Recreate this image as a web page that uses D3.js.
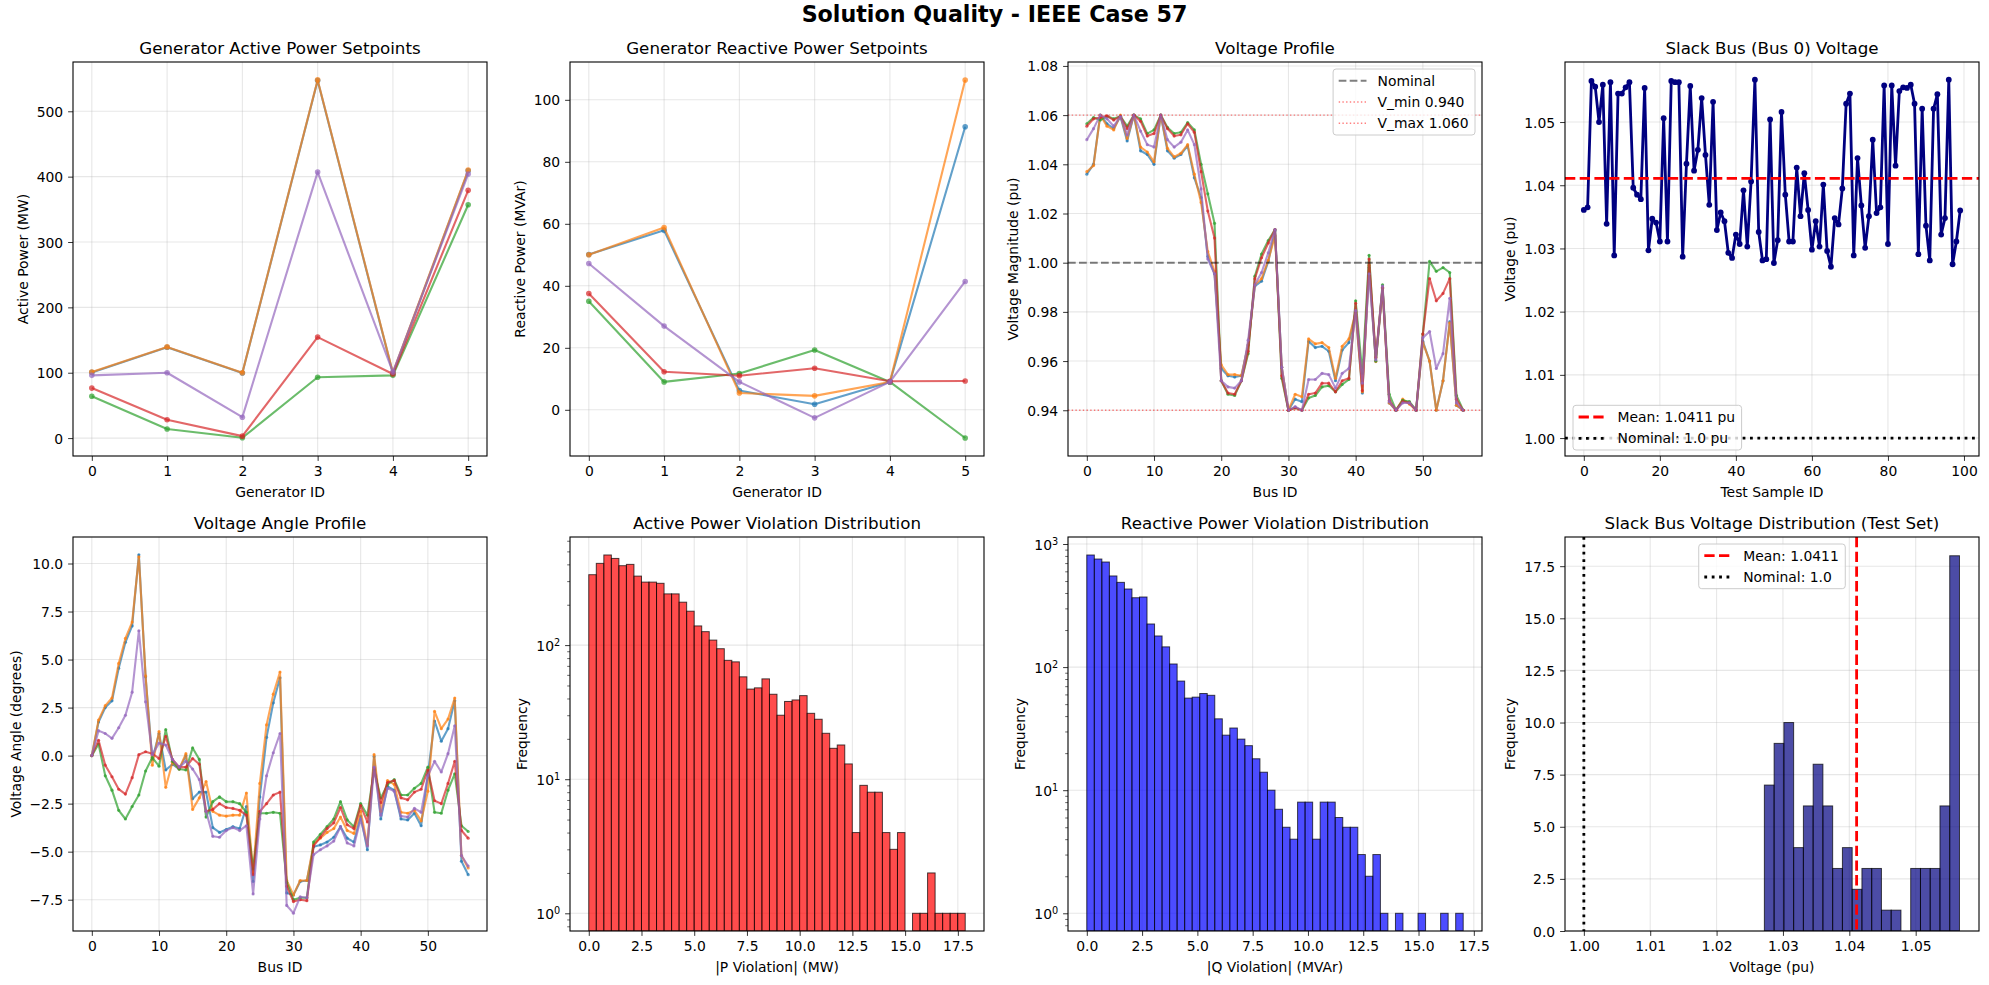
<!DOCTYPE html>
<html>
<head>
<meta charset="utf-8">
<script src="https://cdnjs.cloudflare.com/ajax/libs/d3/7.8.5/d3.min.js"></script>
<style>
    body { margin: 0; background: #ffffff; }
    svg { display: block; font-family: "DejaVu Sans", sans-serif; }
</style>
</head>
<body>
<svg id="fig" width="1989" height="985"></svg>
<script>
// ---- data ----
const sampleColors = ["#1f77b4", "#ff7f0e", "#2ca02c", "#d62728", "#9467bd"];
const genIds = [0, 1, 2, 3, 4, 5];

const genActivePower = [
    [100.5, 139, 99.5, 547, 99, 409],
    [101, 139.5, 100, 548, 100, 410],
    [64, 14, 0.5, 93, 96, 357],
    [76.5, 28, 3, 154.5, 98, 379],
    [96, 100, 32, 407, 101, 404]
];

const genReactivePower = [
    [50.1, 57.9, 6.2, 1.8, 9, 91.3],
    [50, 58.8, 5.4, 4.5, 9, 106.4],
    [35, 9, 11.7, 19.3, 9, -9.1],
    [37.5, 12.3, 11, 13.4, 9.2, 9.3],
    [47.2, 27, 9, -2.6, 9, 41.4]
];

const busIds = d3.range(57);

const busVoltage = [
    [1.036, 1.040, 1.060, 1.0565, 1.0545, 1.0595, 1.0495, 1.060, 1.0455, 1.044,
     1.040, 1.060, 1.0455, 1.0425, 1.044, 1.0475, 1.0345, 1.0265, 1.0025, 0.9955,
     0.957, 0.954, 0.9535, 0.954, 0.9665, 0.9905, 0.9925, 1.0005, 1.013, 0.9575,
     0.940, 0.9445, 0.9435, 0.968, 0.9655, 0.966, 0.964, 0.952, 0.9645, 0.9675,
     0.980, 0.947, 0.998, 0.960, 0.9895, 0.943, 0.940, 0.944, 0.943, 0.940,
     0.968, 0.960, 0.940, 0.952, 0.976, 0.942, 0.940],
    [1.037, 1.0395, 1.060, 1.0555, 1.054, 1.060, 1.0505, 1.060, 1.047, 1.045,
     1.041, 1.060, 1.0465, 1.043, 1.0445, 1.048, 1.036, 1.0245, 1.0045, 0.9965,
     0.9585, 0.9545, 0.9545, 0.954, 0.9665, 0.991, 0.9935, 1.001, 1.011, 0.9575,
     0.940, 0.9465, 0.9455, 0.969, 0.967, 0.9675, 0.9655, 0.953, 0.966, 0.969,
     0.980, 0.9475, 0.999, 0.9598, 0.9895, 0.943, 0.940, 0.9445, 0.9425, 0.940,
     0.9675, 0.960, 0.940, 0.952, 0.9755, 0.942, 0.940],
    [1.0565, 1.059, 1.058, 1.0595, 1.0585, 1.0595, 1.0555, 1.060, 1.0585, 1.0525,
     1.054, 1.060, 1.055, 1.0525, 1.053, 1.057, 1.054, 1.040, 1.028, 1.016,
     0.952, 0.9465, 0.946, 0.952, 0.963, 0.9945, 1.0035, 1.009, 1.0135, 0.953,
     0.940, 0.941, 0.940, 0.945, 0.946, 0.9495, 0.950, 0.9475, 0.9505, 0.9525,
     0.9845, 0.955, 1.003, 0.960, 0.991, 0.9465, 0.940, 0.944, 0.9435, 0.940,
     0.971, 1.0005, 0.9965, 0.998, 0.996, 0.946, 0.940],
    [1.0555, 1.0585, 1.059, 1.0597, 1.058, 1.0595, 1.0545, 1.060, 1.0575, 1.0515,
     1.0525, 1.060, 1.0545, 1.0515, 1.052, 1.0565, 1.053, 1.037, 1.021, 1.010,
     0.952, 0.947, 0.9465, 0.952, 0.964, 0.9935, 1.002, 1.008, 1.0135, 0.954,
     0.940, 0.941, 0.940, 0.9465, 0.947, 0.951, 0.951, 0.9475, 0.952, 0.953,
     0.9835, 0.948, 1.0015, 0.9615, 0.990, 0.944, 0.940, 0.9435, 0.943, 0.940,
     0.971, 0.9935, 0.9845, 0.9875, 0.9935, 0.9445, 0.940],
    [1.050, 1.0545, 1.060, 1.0585, 1.0555, 1.0595, 1.052, 1.060, 1.0535, 1.048,
     1.047, 1.060, 1.050, 1.047, 1.049, 1.054, 1.048, 1.030, 1.0015, 0.9955,
     0.952, 0.9495, 0.949, 0.952, 0.9685, 0.991, 0.996, 1.004, 1.0135, 0.9575,
     0.940, 0.9415, 0.940, 0.9525, 0.9525, 0.955, 0.9545, 0.949, 0.955, 0.957,
     0.9805, 0.951, 0.9955, 0.9605, 0.9905, 0.9435, 0.940, 0.943, 0.943, 0.940,
     0.9695, 0.972, 0.957, 0.963, 0.9855, 0.943, 0.940]
];

const busAngle = [
    [0, 1.75, 2.5, 2.85, 4.55, 5.9, 6.75, 10.45, 4.1, -0.2,
     1.15, -0.75, -0.45, -0.7, 0.0, -2.25, -1.9, -1.9, -3.75, -4.0,
     -3.85, -3.7, -3.8, -2.65, -6.55, -2.15, 0.95, 2.75, 4.05, -7.15,
     -7.25, -6.55, -6.5, -4.75, -4.65, -4.5, -4.25, -3.7, -4.3, -4.5,
     -3.15, -4.9, -0.05, -3.3, -1.6, -1.8, -3.3, -3.35, -3.0, -3.65,
     -1.0, 1.8, 0.75, 1.4, 2.85, -5.5, -6.2],
    [0, 1.85, 2.6, 3.0, 4.8, 6.1, 6.95, 10.35, 4.15, -0.5,
     1.25, -1.65, -0.35, -0.7, 0.1, -2.8, -2.2, -1.35, -2.9, -3.1,
     -3.15, -3.1, -3.1, -1.95, -6.1, -1.45, 1.6, 3.2, 4.35, -6.5,
     -7.25, -6.5, -6.5, -4.6, -4.3, -4.0, -3.8, -3.2, -3.9, -4.05,
     -2.9, -4.65, 0.05, -2.9, -1.3, -1.5, -2.95, -3.0, -2.85, -3.4,
     -1.85, 2.3, 1.4, 1.9, 3.0, -5.2, -5.85],
    [0, 0.6, -1.05, -1.8, -2.85, -3.3, -2.65, -2.05, -0.8, -0.1,
     -0.55, 1.35, -0.3, -0.7, -0.75, 0.4, -0.2, -3.2, -2.4, -2.15,
     -2.4, -2.4, -2.5, -2.95, -5.9, -3.0, -3.0, -2.95, -3.0, -6.6,
     -7.5, -7.4, -7.4, -4.5, -4.1, -3.7, -3.3, -2.4, -3.35, -3.7,
     -2.5, -3.1, -0.75, -2.2, -1.5, -1.25, -2.05, -2.05, -1.7, -1.45,
     -0.6, -2.95, -3.0, -1.8, -0.95, -3.65, -3.95],
    [0, 0.8, -0.5, -1.1, -1.75, -2.0, -1.15, 0.05, 0.2, 0.1,
     -0.15, 1.0, -0.2, -0.6, -0.6, -0.15, -0.45, -2.9, -2.8, -2.5,
     -2.7, -2.75, -2.85, -3.1, -6.2, -2.9, -2.5, -2.05, -1.9, -6.8,
     -7.6, -7.5, -7.55, -4.7, -4.25, -3.8, -3.5, -2.7, -3.6, -3.8,
     -2.6, -3.45, -0.65, -2.45, -1.4, -1.3, -2.2, -2.3, -1.9, -1.75,
     -0.75, -2.35, -2.5, -1.45, -0.3, -3.9, -4.3],
    [0, 1.3, 1.15, 0.9, 1.45, 2.1, 3.3, 6.5, 2.8, 0.05,
     0.65, 0.55, -0.2, -0.6, -0.3, -0.7, -1.25, -2.9, -4.2, -4.25,
     -3.9, -3.75, -3.9, -3.65, -7.2, -3.3, -1.05, 0.15, 1.15, -7.8,
     -8.2, -7.35, -7.4, -5.15, -4.9, -4.7, -4.45, -3.7, -4.55, -4.7,
     -3.3, -4.7, -0.6, -3.1, -1.7, -1.85, -3.15, -3.2, -2.75, -2.95,
     -1.05, -0.3, -0.85, 0.1, 1.55, -5.2, -5.75]
];

const sampleIds = d3.range(100);
const slackVoltage = [
    1.0361, 1.0365, 1.0565, 1.0556, 1.0500, 1.0559, 1.0339, 1.0563, 1.0289, 1.0545,
    1.0545, 1.0555, 1.0563, 1.0396, 1.0385, 1.0378, 1.0554, 1.0297, 1.0347, 1.0341,
    1.0311, 1.0506, 1.0311, 1.0565, 1.0563, 1.0563, 1.0287, 1.0434, 1.0557, 1.0423,
    1.0456, 1.0538, 1.0448, 1.0369, 1.0532, 1.0329, 1.0357, 1.0343, 1.0293, 1.0285,
    1.0322, 1.0307, 1.0392, 1.0303, 1.0406, 1.0567, 1.0326, 1.0281, 1.0283, 1.0504,
    1.0277, 1.0313, 1.0516, 1.0385, 1.0311, 1.0311, 1.0428, 1.0351, 1.0419, 1.0361,
    1.0298, 1.0343, 1.0303, 1.0401, 1.0296, 1.0271, 1.0348, 1.0338, 1.0395, 1.0529,
    1.0545, 1.0289, 1.0443, 1.0368, 1.0301, 1.0351, 1.0472, 1.0356, 1.0365, 1.0558,
    1.0307, 1.0558, 1.0431, 1.0549, 1.0555, 1.0554, 1.0559, 1.0529, 1.0291, 1.0521,
    1.0336, 1.0281, 1.0521, 1.0544, 1.0322, 1.0348, 1.0567, 1.0275, 1.0311, 1.0360
];
const slackMean = 1.0411;
const nominalV = 1.0;
const vMin = 0.94;
const vMax = 1.06;

const pViolRange = [0, 17.85];
const pViolCounts = [
    335, 407, 470, 443, 391, 400, 327, 295, 295, 289,
    241, 241, 209, 179, 139, 126, 109, 94, 77, 75,
    58, 47, 48, 56, 43, 30, 38, 39, 42, 31,
    28, 22, 17, 18, 13, 4, 9, 8, 8, 4,
    3, 4, 0, 1, 1, 2, 1, 1, 1, 1
];

const qViolRange = [0, 17.02];
const qViolCounts = [
    814, 755, 714, 550, 488, 431, 366, 371, 224, 179,
    146, 106, 77, 56, 57, 61, 59, 38, 28, 32,
    26, 23, 18, 14, 10, 7, 5, 4, 8, 8,
    4, 8, 8, 6, 5, 5, 3, 2, 3, 1,
    0, 1, 0, 0, 1, 0, 0, 1, 0, 1
];

const slackHistRange = [1.0272, 1.0566];
const slackHistCounts = [7, 9, 10, 4, 6, 8, 6, 3, 4, 2, 3, 3, 1, 1, 0, 3, 3, 3, 6, 18];

// ---- drawing ----
const svg = d3.select("#fig");
const FS = 13.9;
let clipCount = 0;

svg.append("text")
    .attr("x", 994.5).attr("y", 22)
    .attr("text-anchor", "middle")
    .attr("font-size", 22.2).attr("font-weight", "bold")
    .text("Solution Quality - IEEE Case 57");

function addPanel(o) {
    const [x0, y0, x1, y1] = o.box;
    const g = svg.append("g");
    const x = d3.scaleLinear().domain(o.xDomain).range([x0, x1]);
    const y = (o.yLog ? d3.scaleLog() : d3.scaleLinear()).domain(o.yDomain).range([y1, y0]);

    // grid
    const grid = g.append("g").attr("stroke", "#b0b0b0").attr("stroke-opacity", 0.3).attr("stroke-width", 1.1);
    grid.selectAll(".gx").data(o.xTicks).join("line").attr("class", "gx")
        .attr("x1", d => x(d)).attr("x2", d => x(d)).attr("y1", y0).attr("y2", y1);
    grid.selectAll(".gy").data(o.yTicks).join("line").attr("class", "gy")
        .attr("y1", d => y(d)).attr("y2", d => y(d)).attr("x1", x0).attr("x2", x1);

    const cid = "clip" + (clipCount++);
    svg.append("defs").append("clipPath").attr("id", cid)
        .append("rect").attr("x", x0).attr("y", y0).attr("width", x1 - x0).attr("height", y1 - y0);
    const plot = g.append("g").attr("clip-path", `url(#${cid})`);

    // x axis
    g.append("g")
        .attr("transform", `translate(0,${y1})`)
        .call(d3.axisBottom(x).tickValues(o.xTicks).tickFormat(o.xFmt).tickSize(4.9).tickSizeOuter(0))
        .attr("font-size", FS).attr("font-family", "DejaVu Sans, sans-serif")
        .call(a => a.select(".domain").remove())
        .call(a => a.selectAll(".tick line").attr("stroke-width", 0.8))
        .call(a => a.selectAll(".tick text").attr("dy", null).attr("y", 20.3).attr("fill", "#000"));

    // y axis
    const ya = g.append("g")
        .attr("transform", `translate(${x0},0)`)
        .call(d3.axisLeft(y).tickValues(o.yTicks).tickFormat(o.yLog ? () => "10" : o.yFmt)
            .tickSize(4.9).tickPadding(4.9).tickSizeOuter(0))
        .attr("font-size", FS).attr("font-family", "DejaVu Sans, sans-serif")
        .call(a => a.select(".domain").remove())
        .call(a => a.selectAll(".tick line").attr("stroke-width", 0.8))
        .call(a => a.selectAll(".tick text").attr("dy", "0.36em").attr("fill", "#000"));
    if (o.yLog) {
        ya.selectAll(".tick text").each(function (d) {
            d3.select(this).append("tspan").attr("dy", "-0.5em").attr("font-size", "0.7em")
                .text(Math.round(Math.log10(d)));
        });
        const minor = [];
        for (let e = -1; e <= 3; e++) {
            for (let m = 2; m <= 9; m++) {
                const v = m * Math.pow(10, e);
                if (v >= o.yDomain[0] && v <= o.yDomain[1]) minor.push(v);
            }
        }
        g.append("g")
            .attr("transform", `translate(${x0},0)`)
            .call(d3.axisLeft(y).tickValues(minor).tickFormat("").tickSize(2.8).tickSizeOuter(0))
            .call(a => a.select(".domain").remove())
            .call(a => a.selectAll(".tick line").attr("stroke-width", 0.6));
    }

    // spines
    g.append("rect").attr("x", x0).attr("y", y0).attr("width", x1 - x0).attr("height", y1 - y0)
        .attr("fill", "none").attr("stroke", "#000").attr("stroke-width", 1.1);

    // labels
    g.append("text").attr("x", (x0 + x1) / 2).attr("y", y0 - 8)
        .attr("text-anchor", "middle").attr("font-size", 16.7).text(o.title);
    g.append("text").attr("x", (x0 + x1) / 2).attr("y", y1 + 41)
        .attr("text-anchor", "middle").attr("font-size", FS).text(o.xLabel);
    const bb = ya.node().getBBox();
    const lx = x0 + bb.x - 5.6 - 3.3;
    g.append("text")
        .attr("transform", `translate(${lx},${(y0 + y1) / 2}) rotate(-90)`)
        .attr("text-anchor", "middle").attr("font-size", FS).text(o.yLabel);

    return { g, plot, x, y, box: o.box };
}

function drawSeries(p, xs, ys, color, lw, r) {
    p.plot.append("path").datum(ys)
        .attr("d", d3.line().x((d, i) => p.x(xs[i])).y(d => p.y(d)))
        .attr("fill", "none").attr("stroke", color).attr("stroke-width", lw)
        .attr("stroke-opacity", 0.7).attr("stroke-linejoin", "round");
    p.plot.append("g").selectAll("circle").data(ys).join("circle")
        .attr("cx", (d, i) => p.x(xs[i])).attr("cy", d => p.y(d)).attr("r", r)
        .attr("fill", color).attr("fill-opacity", 0.7);
}

function hLine(p, v, color, lw, dash, op) {
    p.plot.append("line").attr("x1", p.box[0]).attr("x2", p.box[2])
        .attr("y1", p.y(v)).attr("y2", p.y(v))
        .attr("stroke", color).attr("stroke-width", lw).attr("stroke-dasharray", dash).attr("stroke-opacity", op);
}

function vLine(p, v, color, lw, dash, op) {
    p.plot.append("line").attr("y1", p.box[1]).attr("y2", p.box[3])
        .attr("x1", p.x(v)).attr("x2", p.x(v))
        .attr("stroke", color).attr("stroke-width", lw).attr("stroke-dasharray", dash).attr("stroke-opacity", op);
}

function drawHist(p, range, counts, color) {
    const n = counts.length;
    const edges = d3.range(n + 1).map(i => range[0] + i * (range[1] - range[0]) / n);
    p.plot.append("g").selectAll("rect").data(counts.map((c, i) => ({ c, i })).filter(d => d.c > 0))
        .join("rect")
        .attr("x", d => p.x(edges[d.i])).attr("width", d => p.x(edges[d.i + 1]) - p.x(edges[d.i]))
        .attr("y", d => p.y(d.c)).attr("height", d => p.box[3] - p.y(d.c))
        .attr("fill", color).attr("fill-opacity", 0.7)
        .attr("stroke", "#000").attr("stroke-opacity", 0.7).attr("stroke-width", 1);
}

function legend(p, items, place) {
    const lg = p.g.append("g");
    const frame = lg.append("rect");
    let tw = 0;
    items.forEach((it, i) => {
        const cy = 11.7 + i * 21.3;
        lg.append("line").attr("x1", 5.6).attr("x2", 33.4).attr("y1", cy).attr("y2", cy)
            .attr("stroke", it.color).attr("stroke-width", it.lw)
            .attr("stroke-dasharray", it.dash).attr("stroke-opacity", it.op);
        const t = lg.append("text").attr("x", 44.5).attr("y", cy + 5).attr("font-size", FS).text(it.label);
        tw = Math.max(tw, t.node().getComputedTextLength());
    });
    const w = 44.5 + tw + 6.5, h = 23.4 + (items.length - 1) * 21.3;
    frame.attr("width", w).attr("height", h).attr("rx", 3)
        .attr("fill", "#fff").attr("fill-opacity", 0.8).attr("stroke", "#cccccc").attr("stroke-width", 1);
    const [x0, y0, x1, y1] = p.box;
    let tx, ty;
    if (place === "upper right") { tx = x1 - 7 - w; ty = y0 + 7; }
    else if (place === "lower left") { tx = x0 + 8; ty = y1 - 6 - h; }
    else { tx = (x0 + x1) / 2 - w / 2; ty = y0 + 7; }
    lg.attr("transform", `translate(${tx},${ty})`);
}

const fInt = d3.format("d");

// 1. active power setpoints
const p1 = addPanel({
    box: [73, 62, 487, 456], xDomain: [-0.25, 5.25], yDomain: [-27.4, 575.4],
    xTicks: genIds, yTicks: [0, 100, 200, 300, 400, 500], xFmt: fInt, yFmt: fInt,
    title: "Generator Active Power Setpoints", xLabel: "Generator ID", yLabel: "Active Power (MW)"
});
genActivePower.forEach((s, i) => drawSeries(p1, genIds, s, sampleColors[i], 2.1, 2.8));

// 2. reactive power setpoints
const p2 = addPanel({
    box: [570, 62, 984, 456], xDomain: [-0.25, 5.25], yDomain: [-14.9, 112.2],
    xTicks: genIds, yTicks: [0, 20, 40, 60, 80, 100], xFmt: fInt, yFmt: fInt,
    title: "Generator Reactive Power Setpoints", xLabel: "Generator ID", yLabel: "Reactive Power (MVAr)"
});
genReactivePower.forEach((s, i) => drawSeries(p2, genIds, s, sampleColors[i], 2.1, 2.8));

// 3. voltage profile
const p3 = addPanel({
    box: [1068, 62, 1482, 456], xDomain: [-2.8, 58.8], yDomain: [0.9214, 1.0816],
    xTicks: [0, 10, 20, 30, 40, 50], yTicks: [0.94, 0.96, 0.98, 1.00, 1.02, 1.04, 1.06, 1.08],
    xFmt: fInt, yFmt: d3.format(".2f"),
    title: "Voltage Profile", xLabel: "Bus ID", yLabel: "Voltage Magnitude (pu)"
});
busVoltage.forEach((s, i) => drawSeries(p3, busIds, s, sampleColors[i], 2.1, 1.6));
hLine(p3, nominalV, "#000", 2.1, "7.7,3.3", 0.5);
hLine(p3, vMin, "red", 1.4, "1.4,2.3", 0.5);
hLine(p3, vMax, "red", 1.4, "1.4,2.3", 0.5);
legend(p3, [
    { label: "Nominal", color: "#000", lw: 2.1, dash: "7.7,3.3", op: 0.5 },
    { label: "V_min 0.940", color: "red", lw: 1.4, dash: "1.4,2.3", op: 0.5 },
    { label: "V_max 1.060", color: "red", lw: 1.4, dash: "1.4,2.3", op: 0.5 }
], "upper right");

// 4. slack bus voltage
const p4 = addPanel({
    box: [1565, 62, 1979, 456], xDomain: [-4.95, 103.95], yDomain: [0.99716, 1.0595],
    xTicks: [0, 20, 40, 60, 80, 100], yTicks: [1.00, 1.01, 1.02, 1.03, 1.04, 1.05],
    xFmt: fInt, yFmt: d3.format(".2f"),
    title: "Slack Bus (Bus 0) Voltage", xLabel: "Test Sample ID", yLabel: "Voltage (pu)"
});
p4.plot.append("path").datum(slackVoltage)
    .attr("d", d3.line().x((d, i) => p4.x(sampleIds[i])).y(d => p4.y(d)))
    .attr("fill", "none").attr("stroke", "navy").attr("stroke-width", 2.8).attr("stroke-linejoin", "round");
p4.plot.append("g").selectAll("circle").data(slackVoltage).join("circle")
    .attr("cx", (d, i) => p4.x(sampleIds[i])).attr("cy", d => p4.y(d)).attr("r", 2.9).attr("fill", "navy");
hLine(p4, slackMean, "red", 2.8, "10.3,4.4", 1);
hLine(p4, nominalV, "#000", 2.8, "2.8,4.6", 1);
legend(p4, [
    { label: "Mean: " + slackMean.toFixed(4) + " pu", color: "red", lw: 2.8, dash: "10.3,4.4", op: 1 },
    { label: "Nominal: 1.0 pu", color: "#000", lw: 2.8, dash: "2.8,4.6", op: 1 }
], "lower left");

// 5. voltage angle profile
const p5 = addPanel({
    box: [73, 537, 487, 931], xDomain: [-2.8, 58.8], yDomain: [-9.13, 11.38],
    xTicks: [0, 10, 20, 30, 40, 50], yTicks: [-7.5, -5, -2.5, 0, 2.5, 5, 7.5, 10],
    xFmt: fInt, yFmt: d3.format(".1f"),
    title: "Voltage Angle Profile", xLabel: "Bus ID", yLabel: "Voltage Angle (degrees)"
});
busAngle.forEach((s, i) => drawSeries(p5, busIds, s, sampleColors[i], 2.1, 1.6));

// 6. active power violation histogram
const p6 = addPanel({
    box: [570, 537, 984, 931], xDomain: [-0.89, 18.74], yDomain: [0.738, 640], yLog: true,
    xTicks: [0, 2.5, 5, 7.5, 10, 12.5, 15, 17.5], yTicks: [1, 10, 100],
    xFmt: d3.format(".1f"),
    title: "Active Power Violation Distribution", xLabel: "|P Violation| (MW)", yLabel: "Frequency"
});
drawHist(p6, pViolRange, pViolCounts, "red");

// 7. reactive power violation histogram
const p7 = addPanel({
    box: [1068, 537, 1482, 931], xDomain: [-0.85, 17.87], yDomain: [0.718, 1140], yLog: true,
    xTicks: [0, 2.5, 5, 7.5, 10, 12.5, 15, 17.5], yTicks: [1, 10, 100, 1000],
    xFmt: d3.format(".1f"),
    title: "Reactive Power Violation Distribution", xLabel: "|Q Violation| (MVAr)", yLabel: "Frequency"
});
drawHist(p7, qViolRange, qViolCounts, "blue");

// 8. slack voltage distribution
const p8 = addPanel({
    box: [1565, 537, 1979, 931], xDomain: [0.99716, 1.05954], yDomain: [0, 18.9],
    xTicks: [1.00, 1.01, 1.02, 1.03, 1.04, 1.05], yTicks: [0, 2.5, 5, 7.5, 10, 12.5, 15, 17.5],
    xFmt: d3.format(".2f"), yFmt: d3.format(".1f"),
    title: "Slack Bus Voltage Distribution (Test Set)", xLabel: "Voltage (pu)", yLabel: "Frequency"
});
drawHist(p8, slackHistRange, slackHistCounts, "navy");
vLine(p8, slackMean, "red", 2.8, "10.3,4.4", 1);
vLine(p8, nominalV, "#000", 2.8, "2.8,4.6", 1);
legend(p8, [
    { label: "Mean: " + slackMean.toFixed(4), color: "red", lw: 2.8, dash: "10.3,4.4", op: 1 },
    { label: "Nominal: 1.0", color: "#000", lw: 2.8, dash: "2.8,4.6", op: 1 }
], "upper center");
</script>
</body>
</html>
